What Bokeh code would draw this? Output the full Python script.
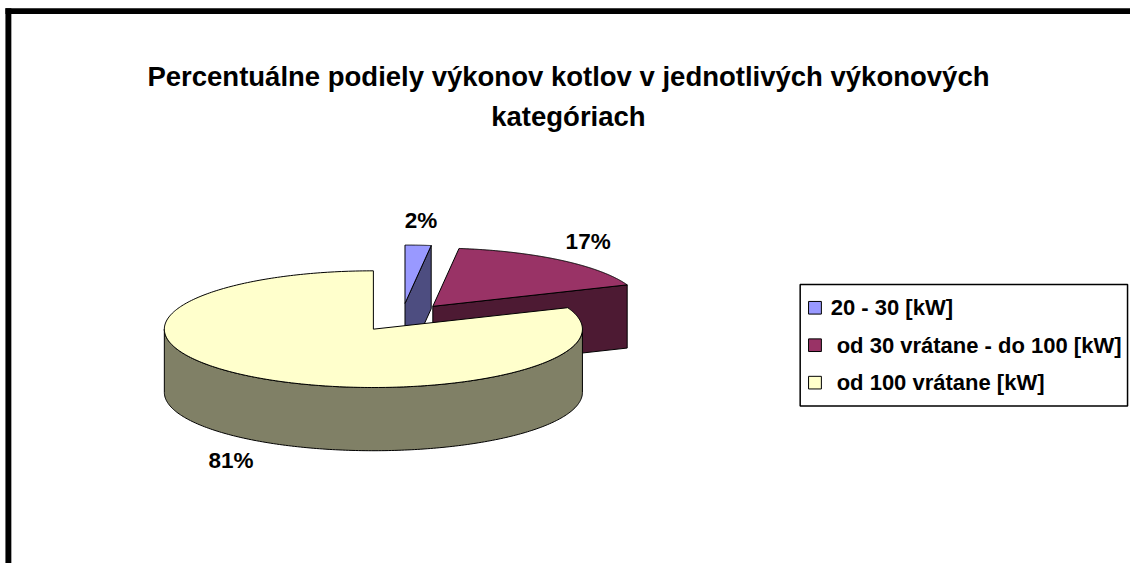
import numpy as np
from bokeh.plotting import figure
from bokeh.models import Range1d, ColumnDataSource
from bokeh.core.properties import value
from bokeh.embed import file_html
from bokeh.resources import INLINE

# ---- data ----
categories = ["20 - 30 [kW]", "od 30 vrátane - do 100 [kW]", "od 100 vrátane [kW]"]
shares = [2, 17, 81]
pct_labels = ["2%", "17%", "81%"]
top_colors = ["#9999FF", "#993366", "#FFFFCC"]
side_colors = ["#4D4D80", "#4D1A33", "#808066"]
title_lines = ["Percentuálne podiely výkonov kotlov v jednotlivých výkonových", "kategóriach"]

FONT = value("Liberation Sans")

# ---- geometry (pixel space of the reference picture) ----
CX, CY = 407.0, 326.0
RX, RY = 212.0, 60.0
DEPTH = 65.0
EXPLODE = 0.242

W, H = 1130, 563
p = figure(width=W, height=H, output_backend="svg", toolbar_location=None,
           x_axis_type=None, y_axis_type=None, min_border=0,
           x_range=Range1d(0, 1146), y_range=Range1d(579, 0))
p.outline_line_color = None
p.background_fill_color = "white"
p.border_fill_color = "white"

# chart frame (only top and left edges are visible)
p.quad(left=[5, 5], right=[1146, 11], top=[8, 8], bottom=[14, 579],
       fill_color="black", line_color=None)

vals = np.array(shares, dtype=float)
frac = vals / vals.sum()
ends = np.cumsum(frac) * 2 * np.pi
starts = ends - frac * 2 * np.pi

def rim(vx, vy, t, dz=0.0):
    return vx + RX * np.sin(t), vy - RY * np.cos(t) + dz

slices = []
for i in range(len(shares)):
    t0, t1 = starts[i], ends[i]
    mid = 0.5 * (t0 + t1)
    vx = CX + EXPLODE * RX * np.sin(mid)
    vy = CY - EXPLODE * RY * np.cos(mid)
    slices.append((i, t0, t1, mid, vx, vy))

xs, ys, fills = [], [], []
for (i, t0, t1, mid, vx, vy) in sorted(slices, key=lambda s: s[5]):
    # outer side (front half only)
    a, b = max(t0, np.pi / 2), min(t1, 3 * np.pi / 2)
    if a < b:
        t = np.linspace(a, b, 200)
        x1, y1 = rim(vx, vy, t)
        x2, y2 = rim(vx, vy, t[::-1], DEPTH)
        xs.append(list(np.concatenate([x1, x2])))
        ys.append(list(np.concatenate([y1, y2])))
        fills.append(side_colors[i])
    # cut faces
    for ang, vis in ((t1, np.sin(t1) > 1e-9), (t0, np.sin(t0) < -1e-9)):
        if vis:
            rx_, ry_ = rim(vx, vy, ang)
            xs.append([vx, rx_, rx_, vx])
            ys.append([vy, ry_, ry_ + DEPTH, vy + DEPTH])
            fills.append(side_colors[i])
    # top face
    t = np.linspace(t0, t1, 300)
    x1, y1 = rim(vx, vy, t)
    xs.append([vx] + list(x1))
    ys.append([vy] + list(y1))
    fills.append(top_colors[i])

p.patches(xs="xs", ys="ys", fill_color="fill", line_color="black", line_width=1,
          source=ColumnDataSource(dict(xs=xs, ys=ys, fill=fills)))

# percentage labels
lx, ly = [], []
for (i, t0, t1, mid, vx, vy) in slices:
    x, y = rim(vx, vy, mid)
    if np.cos(mid) < 0:
        y += DEPTH
    lx.append(x + 45 * np.sin(mid))
    ly.append(y - 25 * np.cos(mid))
p.text(x=lx, y=ly, text=pct_labels, text_font=FONT, text_font_style="bold",
       text_font_size="22.5px", text_align="center", text_baseline="middle",
       text_color="black")

# title
p.text(x=[576, 576], y=[78, 119], text=title_lines, text_font=FONT,
       text_font_style="bold", text_font_size="27.5px", text_align="center",
       text_baseline="alphabetic", text_color="black")

# legend
p.quad(left=[811], right=[1143], top=[292], bottom=[417], fill_color="white",
       line_color="black", line_width=1.5)
leg_y = [316 + 38.5 * i for i in range(len(categories))]
leg_x = [842, 848, 848]
p.rect(x=[826] * len(categories), y=leg_y, width=13, height=13,
       fill_color=top_colors, line_color="black", line_width=1)
p.text(x=leg_x, y=leg_y, text=categories, text_font=FONT,
       text_font_style="bold", text_font_size="22px", text_align="left",
       text_baseline="middle", text_color="black")

open("out.html", "w").write(file_html(p, INLINE))
